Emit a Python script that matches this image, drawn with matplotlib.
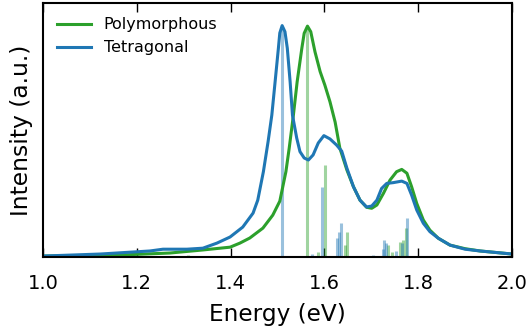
import matplotlib.pyplot as plt
import numpy as np

# broadened spectra (energy in eV, intensity normalised)
E_tet = [1.000, 1.122, 1.228, 1.256, 1.307, 1.341, 1.371, 1.399, 1.426, 1.448,
         1.458, 1.470, 1.480, 1.488, 1.495, 1.502, 1.505, 1.510, 1.516, 1.521,
         1.527, 1.532, 1.541, 1.548, 1.557, 1.566, 1.576, 1.587, 1.599, 1.612,
         1.626, 1.637, 1.648, 1.662, 1.676, 1.690, 1.701, 1.712, 1.722, 1.733,
         1.747, 1.765, 1.776, 1.786, 1.797, 1.811, 1.825, 1.843, 1.868, 1.900,
         1.932, 2.000]
I_tet = [0.004, 0.012, 0.024, 0.031, 0.031, 0.035, 0.055, 0.079, 0.118, 0.173,
         0.224, 0.336, 0.454, 0.559, 0.690, 0.822, 0.882, 0.911, 0.887, 0.822,
         0.690, 0.559, 0.469, 0.415, 0.390, 0.382, 0.402, 0.449, 0.478, 0.465,
         0.441, 0.417, 0.350, 0.277, 0.224, 0.197, 0.201, 0.224, 0.270, 0.290,
         0.293, 0.299, 0.290, 0.244, 0.185, 0.133, 0.100, 0.074, 0.047, 0.031,
         0.024, 0.012]

E_poly = [1.000, 1.164, 1.271, 1.341, 1.399, 1.420, 1.441, 1.469, 1.490, 1.505,
          1.518, 1.525, 1.534, 1.542, 1.552, 1.557, 1.564, 1.571, 1.580, 1.591,
          1.601, 1.612, 1.623, 1.633, 1.648, 1.662, 1.676, 1.690, 1.701, 1.712,
          1.726, 1.740, 1.754, 1.765, 1.776, 1.786, 1.797, 1.811, 1.825, 1.843,
          1.868, 1.900, 1.932, 2.000]
I_poly = [0.004, 0.008, 0.016, 0.028, 0.039, 0.055, 0.075, 0.114, 0.165, 0.220,
          0.336, 0.428, 0.559, 0.690, 0.822, 0.881, 0.909, 0.887, 0.808, 0.730,
          0.677, 0.611, 0.531, 0.429, 0.343, 0.277, 0.224, 0.196, 0.192, 0.205,
          0.251, 0.303, 0.336, 0.345, 0.330, 0.277, 0.211, 0.146, 0.106, 0.074,
          0.047, 0.033, 0.024, 0.012]

# oscillator sticks
stick_E_tet = [1.510, 1.574, 1.595, 1.627, 1.631, 1.635, 1.704, 1.725, 1.727,
               1.731, 1.753, 1.765, 1.776]
stick_I_tet = [0.906, 0.012, 0.276, 0.075, 0.098, 0.134, 0.008, 0.031, 0.067,
               0.055, 0.024, 0.055, 0.154]
stick_E_poly = [1.309, 1.563, 1.586, 1.601, 1.644, 1.648, 1.736, 1.744, 1.761,
                1.768, 1.774]
stick_I_poly = [0.008, 0.906, 0.020, 0.362, 0.047, 0.098, 0.047, 0.020, 0.059,
                0.067, 0.114]

green = '#2ca02c'
blue = '#1f77b4'

fig = plt.figure(figsize=(5.3, 3.33), dpi=100)
ax = fig.add_axes([0.081, 0.228, 0.885, 0.763])

ax.vlines(stick_E_poly, 0, stick_I_poly, color=green, alpha=0.45, lw=2.2)
ax.vlines(stick_E_tet, 0, stick_I_tet, color=blue, alpha=0.45, lw=2.2)

ax.plot(E_poly, I_poly, color=green, lw=2.2, label='Polymorphous')
ax.plot(E_tet, I_tet, color=blue, lw=2.2, label='Tetragonal')

ax.set_xlim(1.0, 2.0)
ax.set_ylim(0, 1.0)
ax.set_xticks([1.0, 1.2, 1.4, 1.6, 1.8, 2.0])
ax.set_yticks([])
ax.tick_params(axis='x', direction='in', top=True, length=6.5, width=1.0,
               labelsize=14, pad=12.5)
for s in ax.spines.values():
    s.set_linewidth(1.5)

ax.set_xlabel('Energy (eV)', fontsize=16.7, labelpad=7)
ax.set_ylabel('Intensity (a.u.)', fontsize=16.8, labelpad=7)

ax.legend(loc='upper left', frameon=False, fontsize=11.5, handlelength=2.1,
          borderaxespad=0.5, labelspacing=0.5)

plt.savefig('out.png', dpi=100)
